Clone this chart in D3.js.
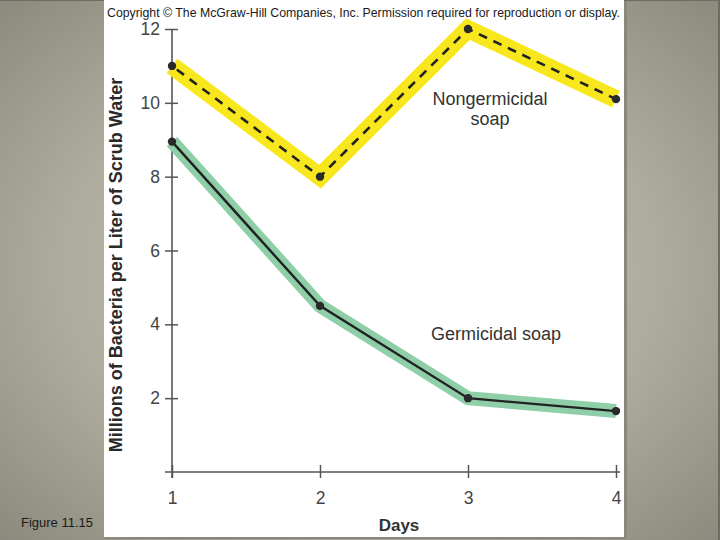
<!DOCTYPE html>
<html>
<head>
<meta charset="utf-8">
<script src="https://cdn.jsdelivr.net/npm/d3@7"></script>
<style>
  html, body { margin: 0; padding: 0; }
  body { width: 720px; height: 540px; overflow: hidden; font-family: "Liberation Sans", Arial, sans-serif; }
</style>
</head>
<body>
<svg id="figure" width="720" height="540"></svg>
<script>
// chart values
const days = [1, 2, 3, 4];
const nongermicidal = [11.0, 8.0, 12.0, 10.1];
const germicidal = [8.95, 4.5, 2.0, 1.65];
const yTicks = [2, 4, 6, 8, 10, 12];

const svg = d3.select("#figure");

// background gradient
const defs = svg.append("defs");
const grad = defs.append("radialGradient")
    .attr("id", "bg")
    .attr("cx", "50%").attr("cy", "50%").attr("r", "75%");
grad.append("stop").attr("offset", "0%").attr("stop-color", "#c4c2b0");
grad.append("stop").attr("offset", "55%").attr("stop-color", "#aeac9c");
grad.append("stop").attr("offset", "100%").attr("stop-color", "#878579");

svg.append("rect").attr("width", 720).attr("height", 540).attr("fill", "url(#bg)");
svg.append("line").attr("x1", 0).attr("x2", 720).attr("y1", 0.5).attr("y2", 0.5)
    .attr("stroke", "#6e6c62").attr("stroke-width", 1);
svg.append("line").attr("x1", 719).attr("x2", 719).attr("y1", 0).attr("y2", 540)
    .attr("stroke", "#6e6c62").attr("stroke-width", 2);

// white panel with slight shadow
svg.append("rect").attr("x", 105).attr("y", 1).attr("width", 522).attr("height", 538)
    .attr("fill", "#8a887c");
svg.append("rect").attr("x", 104).attr("y", 0).attr("width", 520).attr("height", 537)
    .attr("fill", "#ffffff");

svg.append("text")
    .attr("x", 107).attr("y", 17)
    .attr("font-size", 12.6)
    .attr("textLength", 513)
    .attr("lengthAdjust", "spacingAndGlyphs")
    .attr("fill", "#1a1a1a")
    .text("Copyright \u00A9 The McGraw-Hill Companies, Inc. Permission required for reproduction or display.");

svg.append("text")
    .attr("x", 57).attr("y", 527)
    .attr("text-anchor", "middle")
    .attr("font-size", 13)
    .attr("fill", "#1a1a1a")
    .text("Figure 11.15");

const x = d3.scaleLinear().domain([1, 4]).range([172, 616]);
const y = d3.scaleLinear().domain([0, 12]).range([472, 29]);

const axisColor = "#555";
const g = svg.append("g");

// y axis
const yAxis = g.append("g").attr("transform", "translate(172,0)")
    .call(d3.axisLeft(y).tickValues(yTicks).tickSizeInner(6).tickSizeOuter(0).tickPadding(8));
yAxis.select(".domain").remove();
yAxis.selectAll(".tick line").attr("x2", 6).attr("x1", -7).attr("stroke", axisColor).attr("stroke-width", 1.5);
yAxis.selectAll(".tick text").attr("font-size", 17.5).attr("fill", "#444")
    .attr("font-family", "Liberation Sans, Arial, sans-serif").attr("x", -12);
g.append("line").attr("x1", 172).attr("x2", 172).attr("y1", y(12)).attr("y2", 478)
    .attr("stroke", axisColor).attr("stroke-width", 1.6);

// x axis
const xAxis = g.append("g").attr("transform", "translate(0,472)")
    .call(d3.axisBottom(x).tickValues(days).tickFormat(d3.format("d")).tickSizeOuter(0).tickPadding(14));
xAxis.select(".domain").remove();
xAxis.selectAll(".tick line").attr("y1", -7).attr("y2", 6).attr("stroke", axisColor).attr("stroke-width", 1.5);
xAxis.selectAll(".tick text").attr("font-size", 17.5).attr("fill", "#444")
    .attr("font-family", "Liberation Sans, Arial, sans-serif");
g.append("line").attr("x1", 165).attr("x2", 620).attr("y1", 472).attr("y2", 472)
    .attr("stroke", axisColor).attr("stroke-width", 1.6);

// axis titles
svg.append("text")
    .attr("transform", "translate(122,265) rotate(-90)")
    .attr("text-anchor", "middle")
    .attr("font-size", 18)
    .attr("font-weight", "bold")
    .attr("fill", "#2a2a2a")
    .text("Millions of Bacteria per Liter of Scrub Water");

svg.append("text")
    .attr("x", 399).attr("y", 531)
    .attr("text-anchor", "middle")
    .attr("font-size", 17)
    .attr("font-weight", "bold")
    .attr("fill", "#333")
    .text("Days");

// lines
const line = d3.line().x((d, i) => x(days[i])).y(d => y(d));

svg.append("path").datum(nongermicidal).attr("d", line)
    .attr("fill", "none").attr("stroke", "#f8e71c").attr("stroke-width", 18)
    .attr("stroke-linejoin", "miter").attr("stroke-linecap", "butt");
svg.append("path").datum(germicidal).attr("d", line)
    .attr("fill", "none").attr("stroke", "#8fcfa8").attr("stroke-width", 14)
    .attr("stroke-linejoin", "miter").attr("stroke-linecap", "butt");

svg.append("path").datum(nongermicidal).attr("d", line)
    .attr("fill", "none").attr("stroke", "#222").attr("stroke-width", 2.6)
    .attr("stroke-dasharray", "9,7").attr("stroke-dashoffset", -6);
svg.append("path").datum(germicidal).attr("d", line)
    .attr("fill", "none").attr("stroke", "#222").attr("stroke-width", 2.4);

[nongermicidal, germicidal].forEach(series => {
    svg.append("g").selectAll("circle").data(series).join("circle")
        .attr("cx", (d, i) => x(days[i]))
        .attr("cy", d => y(d))
        .attr("r", 4.2)
        .attr("fill", "#2a2a2a");
});

// labels
const lab = svg.append("g").attr("font-size", 18).attr("fill", "#333").attr("text-anchor", "middle");
lab.append("text").attr("x", 490).attr("y", 105).text("Nongermicidal");
lab.append("text").attr("x", 490).attr("y", 125).text("soap");
lab.append("text").attr("x", 496).attr("y", 340).text("Germicidal soap");
</script>
</body>
</html>
